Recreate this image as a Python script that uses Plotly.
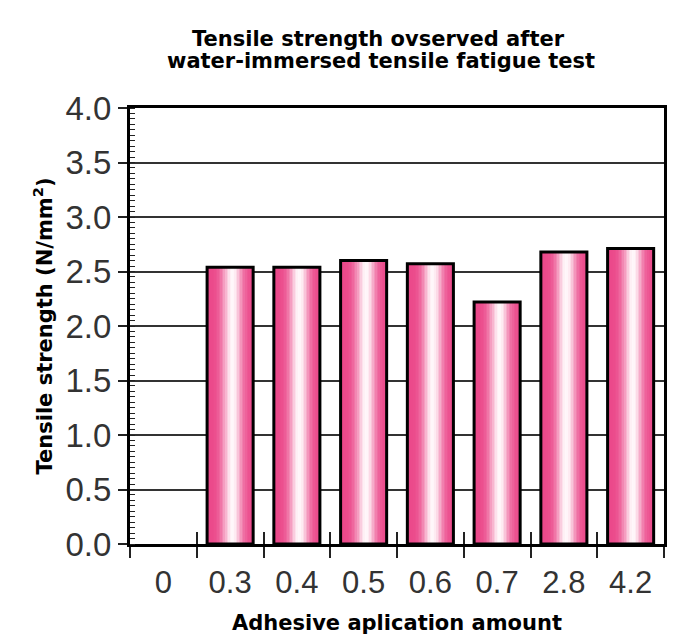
import numpy as np
import plotly.graph_objects as go

# Adhesive application amount (category labels) and measured tensile strength (N/mm²)
amounts = ["0", "0.3", "0.4", "0.5", "0.6", "0.7", "2.8", "4.2"]
strength = [None, 2.54, 2.54, 2.60, 2.57, 2.22, 2.68, 2.71]

title_lines = ["Tensile strength ovserved after", "water-immersed tensile fatigue test"]

BAR_W = 0.69          # bar width in category units
N_SLICES = 30         # vertical slices used to paint the horizontal shading
PINK = np.array([235, 72, 138])
WHITE = np.array([255, 247, 250])

NUM_FONT = "Liberation Sans, Arial, Helvetica, sans-serif"
BOLD = "DejaVu Sans, Verdana, sans-serif"

# Plot-area geometry in pixels
W, H = 677, 636
L, R, T, B = 130, 13, 108, 92
PLOT_H = H - T - B
PLOT_W = W - L - R

fig = go.Figure()

# Shaded bodies: overlaid thin bars, pink at the edges and near-white a bit right of centre
slice_w = BAR_W / N_SLICES
for i in range(N_SLICES):
    t = (i + 0.5) / N_SLICES
    f = np.exp(-((t - 0.56) / 0.21) ** 2)
    r, g, b = (PINK + (WHITE - PINK) * f).round().astype(int)
    fig.add_trace(go.Bar(
        x=amounts, y=strength,
        width=slice_w * 1.15, offset=-BAR_W / 2 + i * slice_w,
        marker=dict(color=f"rgb({r},{g},{b})", line=dict(width=0)),
        hoverinfo="skip", showlegend=False,
    ))

# Black outlines on an overlaid axis (that axis also carries the inward x ticks)
fig.add_trace(go.Bar(
    x=amounts, y=strength, width=BAR_W, offset=-BAR_W / 2,
    marker=dict(color="rgba(0,0,0,0)", line=dict(color="black", width=3)),
    xaxis="x2", showlegend=False,
    hovertemplate="%{x}: %{y:.2f} N/mm²<extra></extra>",
))

# Two-line heading with tight line spacing
for text, cx, cy in zip(title_lines, [378, 381], [39, 61]):
    fig.add_annotation(
        text=f"<b>{text}</b>", showarrow=False,
        xref="paper", yref="paper",
        x=(cx - L) / PLOT_W, y=(H - B - cy) / PLOT_H,
        xanchor="center", yanchor="middle",
        font=dict(family=BOLD, size=21, color="black"),
    )

fig.update_layout(
    width=W, height=H,
    margin=dict(l=L, r=R, t=T, b=B, autoexpand=False),
    barmode="overlay",
    paper_bgcolor="white", plot_bgcolor="white",
    xaxis=dict(
        type="category", categoryorder="array", categoryarray=amounts,
        range=[-0.5, len(amounts) - 0.5], automargin=False,
        tickson="boundaries", ticks="outside", ticklen=11, tickwidth=1.5, tickcolor="#222",
        showline=True, linewidth=3, linecolor="black", mirror=True,
        showgrid=False, zeroline=False,
        tickfont=dict(family=NUM_FONT, size=31, color="#333"),
        ticklabelstandoff=9,
        title=dict(text="<b>Adhesive aplication amount</b>",
                   font=dict(family=BOLD, size=21, color="black"),
                   standoff=17),
    ),
    xaxis2=dict(
        type="category", categoryorder="array", categoryarray=amounts,
        range=[-0.5, len(amounts) - 0.5], automargin=False,
        overlaying="x", anchor="y", side="bottom",
        tickson="boundaries", ticks="inside", ticklen=12, tickwidth=1.5, tickcolor="#222",
        showticklabels=False, showline=False, showgrid=False, zeroline=False,
    ),
    yaxis=dict(
        range=[0, 4], dtick=0.5, tickformat=".1f", automargin=False,
        ticks="outside", ticklen=9, tickwidth=1.5, tickcolor="#222",
        showline=True, linewidth=3, linecolor="black", mirror=True,
        showgrid=True, gridcolor="#333", gridwidth=1.5, zeroline=False,
        minor=dict(dtick=0.05, ticks="inside", ticklen=5, tickwidth=1,
                   tickcolor="#222", showgrid=False),
        tickfont=dict(family=NUM_FONT, size=33, color="#333"),
        title=dict(text="<b>Tensile strength (N/mm<sup>2</sup>)</b>",
                   font=dict(family=BOLD, size=21, color="black"),
                   standoff=8),
    ),
)

fig.write_html("out.html")
